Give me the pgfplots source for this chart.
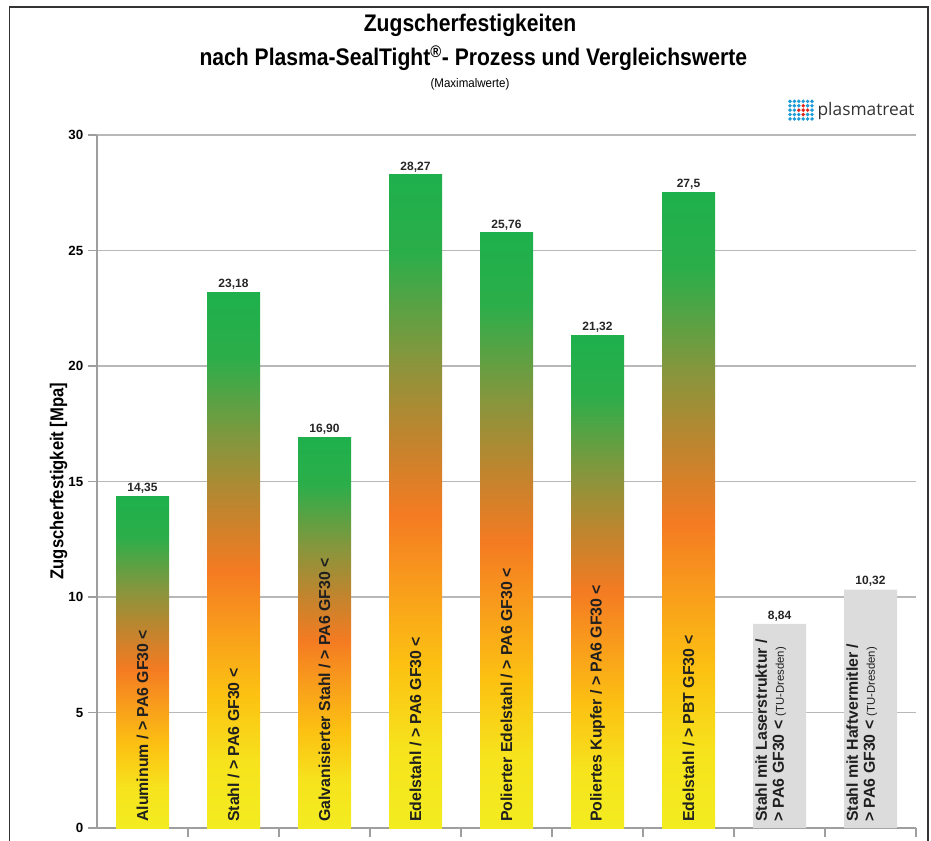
\documentclass[border=0pt]{standalone}
\usepackage{pgfplots}
\pgfplotsset{compat=1.18}
\usepackage{fontspec}
\setmainfont{Liberation Sans}
\newfontfamily\logofont{Open Sans}

\definecolor{cY}{HTML}{F3EC21}
\definecolor{cY2}{HTML}{F6E31D}
\definecolor{cG}{HTML}{FCC112}
\definecolor{cOY}{HTML}{F9A01B}
\definecolor{cO}{HTML}{F47B22}
\definecolor{cBr}{HTML}{BF852E}
\definecolor{cOl}{HTML}{86963D}
\definecolor{cGr2}{HTML}{2BAE4A}
\definecolor{cGr}{HTML}{1EB04C}
\definecolor{barGray}{HTML}{DCDCDC}
\definecolor{logoBlue}{HTML}{1E9AD6}
\definecolor{logoRed}{HTML}{E2231A}
\definecolor{logoText}{HTML}{333333}

\pgfdeclareverticalshading{barshade}{100bp}{color(0bp)=(cY); color(25bp)=(cY); color(31bp)=(cY2); color(37.5bp)=(cG); color(43bp)=(cOY); color(49bp)=(cO); color(55bp)=(cBr); color(61bp)=(cOl); color(69bp)=(cGr2); color(75bp)=(cGr); color(100bp)=(cGr)}

\begin{document}
\begin{tikzpicture}
\useasboundingbox (0,0) rectangle (698.25pt,-630.75pt);
% frame
\draw[line width=1.3pt, black!80] (7.2pt,-700pt) -- (7.2pt,-5.4pt) -- (696pt,-5.4pt) -- (696pt,-700pt);
% titles
\node[font=\fontsize{18}{20}\selectfont\bfseries] at (352.5pt,-19pt) {\scalebox{0.88}[1]{Zugscherfestigkeiten}};
\node[font=\fontsize{18}{20}\selectfont\bfseries] at (355pt,-43.5pt) {\scalebox{0.88}[1]{nach Plasma-SealTight\textsuperscript{®}- Prozess und Vergleichswerte}};
\node[font=\fontsize{9.4}{11}\selectfont] at (352.5pt,-63pt) {\scalebox{0.92}[1]{(Maximalwerte)}};
% logo
\foreach \c in {0,...,5}{
  \foreach \r in {0,...,4}{
    \pgfmathsetmacro{\isred}{((\c==3 && \r>0 && \r<4) || (\c==4 && \r==2) || (\c==2 && \r==2)) ? 1 : 0}
    \ifdim\isred pt>0.5pt
      \fill[logoRed] (592.5pt+\c*3.3pt,-76pt-\r*3.3pt) circle (1.45pt);
    \else
      \fill[logoBlue] (592.5pt+\c*3.3pt,-76pt-\r*3.3pt) circle (1.45pt);
    \fi
  }
}
\node[font=\logofont\fontsize{13}{15}\selectfont, text=logoText, anchor=west, inner sep=0pt] at (613pt,-83pt) {plasmatreat};
% y label
\node[rotate=90, font=\fontsize{14}{16}\selectfont\bfseries] at (44pt,-360.75pt) {\scalebox{0.89}[1]{Zugscherfestigkeit [Mpa]}};

\begin{axis}[
  at={(72.75pt,-621pt)}, anchor=south west,
  width=614.25pt, height=519.75pt, scale only axis,
  xmin=-0.5, xmax=8.5, ymin=0, ymax=30,
  axis x line*=bottom, axis y line*=left,
  axis line style={black!38, line width=0.8pt},
  ytick={0,5,...,30},
  ymajorgrids, grid style={black!28, line width=0.8pt},
  xtick={0.5,1.5,...,8.5}, xticklabels={},
  tick align=outside,
  ytick style={black!38, line width=0.8pt},
  xtick style={black!38, line width=0.8pt},
  y tick label style={font=\fontsize{10}{11}\selectfont\bfseries},
  /pgf/number format/assume math mode=true,
  major tick length=6.75pt,
  clip=false,
  ybar, bar width=39.75pt, bar shift=0pt,
  point meta=explicit symbolic,
  nodes near coords,
  every node near coord/.append style={font=\fontsize{9}{10}\selectfont\bfseries, text=black!85, inner sep=2pt},
  gbar/.style={draw=none, shade, shading=barshade},
]
\addplot[gbar] coordinates {(0,14.35) [14,35]};
\addplot[gbar] coordinates {(1,23.18) [23,18]};
\addplot[gbar] coordinates {(2,16.90) [16,90]};
\addplot[gbar] coordinates {(3,28.27) [28,27]};
\addplot[gbar] coordinates {(4,25.76) [25,76]};
\addplot[gbar] coordinates {(5,21.32) [21,32]};
\addplot[gbar] coordinates {(6,27.5) [27,5]};
\addplot[draw=none, fill=barGray] coordinates {(7,8.84) [8,84] (8,10.32) [10,32]};

\tikzset{blab/.style={rotate=90, anchor=west, font=\fontsize{11.9}{12.8}\selectfont\bfseries, text=black!88, inner sep=0pt}}
\node[blab] at ([yshift=4.5pt]axis cs:0,0) {Aluminum / > PA6 GF30 <};
\node[blab] at ([yshift=4.5pt]axis cs:1,0) {Stahl / > PA6 GF30 <};
\node[blab] at ([yshift=4.5pt]axis cs:2,0) {Galvanisierter Stahl / > PA6 GF30 <};
\node[blab] at ([yshift=4.5pt]axis cs:3,0) {Edelstahl / > PA6 GF30 <};
\node[blab] at ([yshift=4.5pt]axis cs:4,0) {Polierter Edelstahl / > PA6 GF30 <};
\node[blab] at ([yshift=4.5pt]axis cs:5,0) {Poliertes Kupfer / > PA6 GF30 <};
\node[blab] at ([yshift=4.5pt]axis cs:6,0) {Edelstahl / > PBT GF30 <};
\node[blab, align=left] at ([xshift=-6.5pt,yshift=4.5pt]axis cs:7,0) {Stahl mit Laserstruktur /\\> PA6 GF30 < {\fontsize{8.5}{9}\selectfont\mdseries (TU-Dresden)}};
\node[blab, align=left] at ([xshift=-6.5pt,yshift=4.5pt]axis cs:8,0) {Stahl mit Haftvermitler /\\> PA6 GF30 < {\fontsize{8.5}{9}\selectfont\mdseries (TU-Dresden)}};
\end{axis}
\end{tikzpicture}
\end{document}
